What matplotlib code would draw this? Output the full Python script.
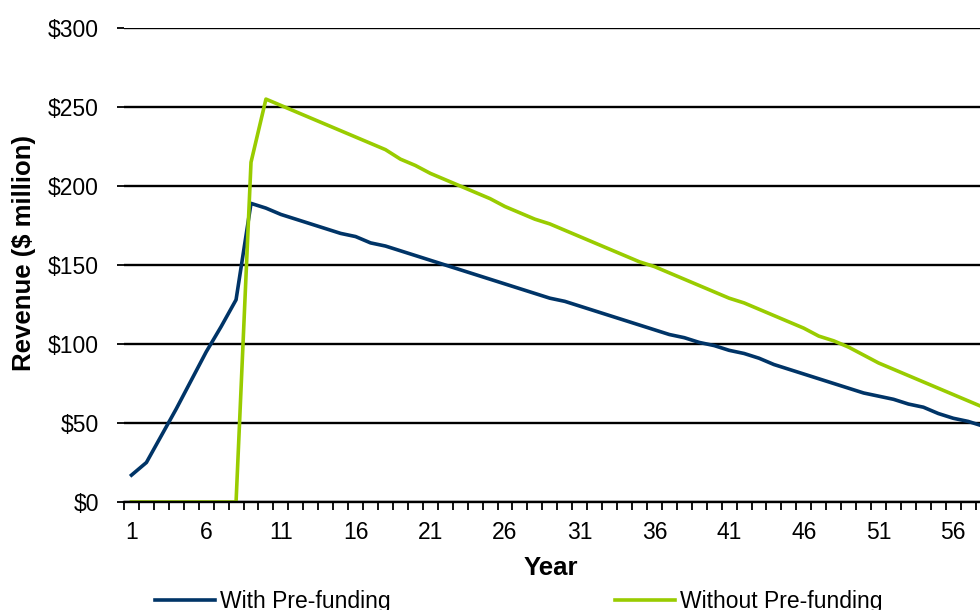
import matplotlib
matplotlib.use('Agg')
import matplotlib.pyplot as plt
from matplotlib.ticker import FixedLocator, FuncFormatter

plt.rcParams['font.family'] = ['Liberation Sans', 'DejaVu Sans']

years = list(range(1, 61))
with_prefunding = [17, 25, 42, 59, 77, 95, 111, 128, 189, 186,
                   182, 179, 176, 173, 170, 168, 164, 162, 159, 156,
                   153, 150, 147, 144, 141, 138, 135, 132, 129, 127,
                   124, 121, 118, 115, 112, 109, 106, 104, 101, 99,
                   96, 94, 91, 87, 84, 81, 78, 75, 72, 69,
                   67, 65, 62, 60, 56, 53, 51, 48, 46, 44]
without_prefunding = [0, 0, 0, 0, 0, 0, 0, 0, 215, 255,
                      251, 247, 243, 239, 235, 231, 227, 223, 217, 213,
                      208, 204, 200, 196, 192, 187, 183, 179, 176, 172,
                      168, 164, 160, 156, 152, 149, 145, 141, 137, 133,
                      129, 126, 122, 118, 114, 110, 105, 102, 98, 93,
                      88, 84, 80, 76, 72, 68, 64, 60, 56, 52]
year_labels = [1, 6, 11, 16, 21, 26, 31, 36, 41, 46, 51, 56]
y_ticks = [0, 50, 100, 150, 200, 250, 300]

navy = '#003467'
lime = '#99cc00'
fs = 16.5

fig = plt.figure(figsize=(9.8, 6.1), dpi=100)
ax = fig.add_axes([124 / 980, 1 - 502 / 610, 1 - 124 / 980, (502 - 28) / 610])

ax.set_ylim(0, 300)
ax.set_xlim(0.5, 57.79)
ax.set_yticks(y_ticks)
ax.yaxis.set_major_formatter(FuncFormatter(lambda v, p: '${:.0f}'.format(v)))
ax.grid(axis='y', color='black', linewidth=1.7)
ax.set_axisbelow(True)

ax.plot(years, with_prefunding, color=navy, lw=2.6, label='With Pre-funding',
        solid_joinstyle='round')
ax.plot(years, without_prefunding, color=lime, lw=2.6, label='Without Pre-funding',
        solid_joinstyle='round')

# tick marks sit between the years, labels on every fifth year
ax.xaxis.set_major_locator(FixedLocator([y + 0.5 for y in range(0, 60)]))
ax.xaxis.set_minor_locator(FixedLocator(year_labels))
ax.xaxis.set_major_formatter(FuncFormatter(lambda v, p: ''))
ax.xaxis.set_minor_formatter(FuncFormatter(lambda v, p: '{:.0f}'.format(v)))
ax.tick_params(axis='x', which='major', length=6, width=1.3, color='black', direction='out')
ax.tick_params(axis='x', which='minor', length=0, pad=14, labelsize=fs)
ax.tick_params(axis='y', length=5, width=1.3, color='black', pad=13, labelsize=fs)

for s in ['left', 'top', 'right']:
    ax.spines[s].set_visible(False)
ax.spines['bottom'].set_linewidth(1.7)
ax.spines['bottom'].set_color('black')

fig.text(551 / 980, 1 - 575 / 610, 'Year', fontsize=18.5, fontweight='bold',
         ha='center', va='baseline')
fig.text(24 / 980, 1 - 253 / 610, 'Revenue ($ million)', fontsize=18.5,
         fontweight='bold', rotation=90, ha='center', va='center')

h = ax.get_lines()
fig.legend([h[0]], ['With Pre-funding'], loc='center left',
           bbox_to_anchor=(155 / 980, 0.014), frameon=False, fontsize=fs,
           handlelength=2.6, handletextpad=0.22, borderpad=0, borderaxespad=0)
fig.legend([h[1]], ['Without Pre-funding'], loc='center left',
           bbox_to_anchor=(615 / 980, 0.014), frameon=False, fontsize=fs,
           handlelength=2.6, handletextpad=0.22, borderpad=0, borderaxespad=0)

fig.savefig('out.png', dpi=100)
